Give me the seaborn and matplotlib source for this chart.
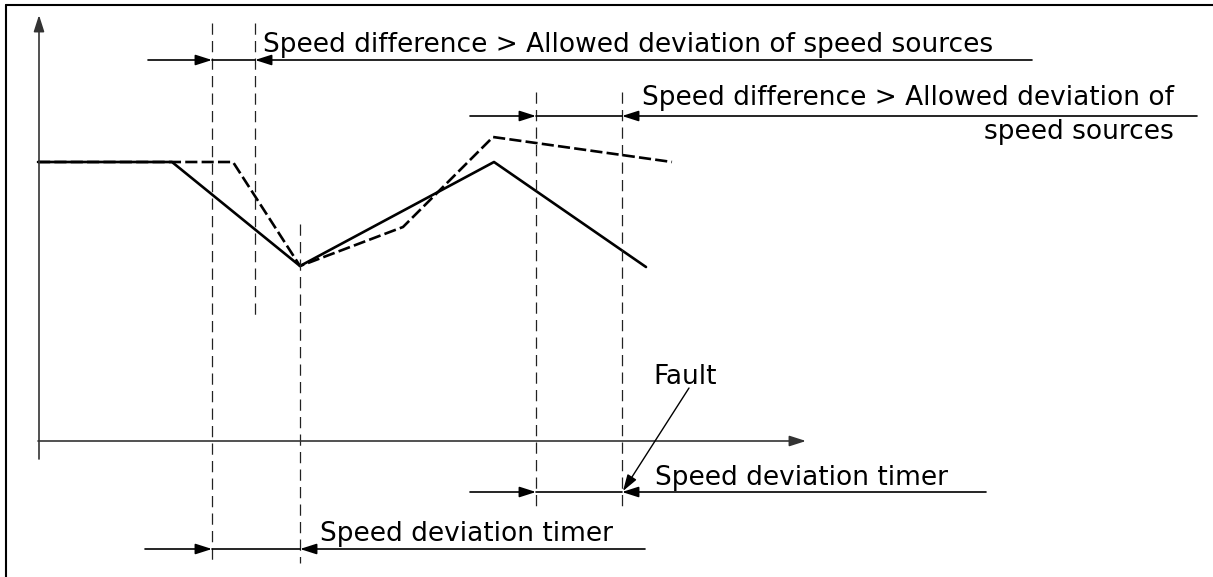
import matplotlib
matplotlib.use("Agg")
import matplotlib.pyplot as plt
import seaborn as sns
import pandas as pd

sns.set_style("white")
plt.rcParams['font.family'] = ['DejaVu Sans']
plt.rcParams['text.color'] = 'black'

# diagram units = pixels of the sheet, y grows downwards
speed_t = [38, 172, 300, 494, 646]
speed_v = [162, 162, 266, 162, 267]
ref_t = [38, 233, 300, 403, 493, 672]
ref_v = [162, 162, 266, 227, 137, 162]

# event markers (vertical dashed guides)
event_x = [212, 255, 300, 536, 622]
event_top = [23, 23, 224, 92, 92]
event_bottom = [562, 320, 563, 510, 510]

# dimension rows: (y, start, left tip, right tip, end)
dim_rows = [
    (60, 148, 212, 255, 1032),
    (116, 470, 536, 622, 1197),
    (492, 470, 536, 622, 986),
    (549, 145, 212, 300, 645),
]

label_diff = "Speed difference > Allowed deviation of speed sources"
label_diff_1 = "Speed difference > Allowed deviation of"
label_diff_2 = "speed sources"
label_timer = "Speed deviation timer"
label_fault = "Fault"

fig = plt.figure(figsize=(12.13, 5.77), dpi=100)
ax = fig.add_axes([0, 0, 1, 1])
ax.set_xlim(0, 1213)
ax.set_ylim(577, 0)
ax.axis('off')

# sheet frame (top and left edges)
ax.plot([6, 6], [5, 577], color='black', lw=1.5)
ax.plot([6, 1213], [5, 5], color='black', lw=1.5)

head = dict(arrowstyle='-|>,head_length=1.0,head_width=0.32',
            mutation_scale=10, shrinkA=0, shrinkB=0)

# axes
ax.annotate('', xy=(39, 15), xytext=(39, 459),
            arrowprops=dict(color='#333333', lw=1.2, **head))
ax.annotate('', xy=(806, 441), xytext=(38, 441),
            arrowprops=dict(color='#333333', lw=1.2, **head))

# curves
df_speed = pd.DataFrame({'t': speed_t, 'v': speed_v})
df_ref = pd.DataFrame({'t': ref_t, 'v': ref_v})
sns.lineplot(data=df_ref, x='t', y='v', sort=False, estimator=None, ax=ax,
             color='black', lw=1.9, linestyle=(0, (4.6, 1.6)))
sns.lineplot(data=df_speed, x='t', y='v', sort=False, estimator=None, ax=ax,
             color='black', lw=1.9)

# event guides
for x, y0, y1 in zip(event_x, event_top, event_bottom):
    ax.plot([x, x], [y0, y1], color='#222222', lw=0.9,
            linestyle=(0, (9, 5)))

# dimension arrows
for y, x0, xa, xb, x1 in dim_rows:
    ax.annotate('', xy=(xa, y), xytext=(x0, y),
                arrowprops=dict(color='black', lw=1.2, **head))
    ax.plot([xa, xb], [y, y], color='black', lw=1.2)
    ax.annotate('', xy=(xb, y), xytext=(x1, y),
                arrowprops=dict(color='black', lw=1.2, **head))

fs = 19
ax.text(263, 52, label_diff, fontsize=fs, ha='left', va='baseline')
ax.text(1174, 105, label_diff_1, fontsize=fs, ha='right', va='baseline')
ax.text(1174, 139, label_diff_2, fontsize=fs, ha='right', va='baseline')
ax.text(655, 485, label_timer, fontsize=fs, ha='left', va='baseline')
ax.text(320, 541, label_timer, fontsize=fs, ha='left', va='baseline')
ax.text(653, 384, label_fault, fontsize=fs, ha='left', va='baseline')

# fault pointer
ax.annotate('', xy=(623, 491), xytext=(689, 388),
            arrowprops=dict(color='black', lw=1.0, **head))

fig.savefig('out.png', dpi=100)
